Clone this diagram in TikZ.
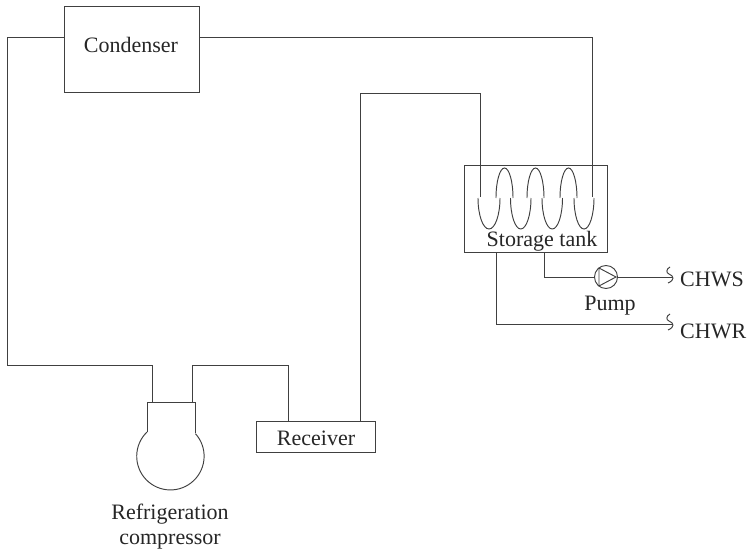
\documentclass[tikz,border=0pt]{standalone}
\usepackage{fontspec}
\setmainfont{Liberation Serif}
\tikzset{
  pipe/.style={draw=black!75,line width=0.95pt,line join=miter},
  lbl/.style={inner sep=0pt,font=\fontsize{22}{25}\selectfont,text=black!85},
  boxed/.style={draw=black!75,line width=0.95pt,fill=none,inner sep=0pt}
}
\begin{document}
\begin{tikzpicture}[x=1pt,y=-1pt]
\useasboundingbox (0,0) rectangle (748,549);
\node[boxed,minimum width=135pt,minimum height=86pt] (cond) at (131.5,49) {};
\node[lbl] (condt) at (131,45) {Condenser};
\node[boxed,minimum width=143pt,minimum height=87pt] (tank) at (535.5,208.5) {};
\node[lbl] (tankt) at (542,241.5) {Storage tank};
\node[boxed,minimum width=119pt,minimum height=31pt] (recv) at (315.5,436.5) {};
\node[lbl] (recvt) at (316,438) {Receiver};
\node[boxed,circle,minimum size=23pt] (pump) at (606,277) {};
\node[lbl] (pumpt) at (610,306) {Pump};
\node[lbl,anchor=west] (chws) at (680,279.5) {CHWS};
\node[lbl,anchor=west] (chwr) at (680,331) {CHWR};
\node[lbl,align=center] (compt) at (170,527) {Refrigeration\\compressor};
\coordinate (s1) at (673,277);
\coordinate (s2) at (673,324);
% compressor
\draw[pipe] (147,432) -- (147,402) -- (195,402) -- (195,433.4);
\draw[pipe] (147,432) arc[start angle=226,end angle=-42,radius=33.7];
% pipes
\draw[pipe] (cond.west |- 0,37) -- (7,37) -- (7,365) -- (152,365) -- (152,402);
\draw[pipe] (192,402) -- (192,365) -- (288,365) -- (288,421);
\draw[pipe] (360,421) -- (360,93) -- (480,93) -- (480,197);
\draw[pipe] (cond.east |- 0,37) -- (592,37) -- (592,197);
\draw[pipe] (544,252) -- (544,277) -- (pump.west);
\draw[pipe] (pump.east) -- (s1);
\draw[pipe] (496,252) -- (496,324) -- (s2);
% pump triangle
\draw[pipe] (599,268) -- (616,277) -- (599,286) -- cycle;
% squiggles
\foreach \c in {s1,s2}{
  \begin{scope}[shift={(\c)}]
  \draw[pipe] (-3,-10) .. controls (-7,-8) and (-7,-4) .. (-4,-3) .. controls (1,-1) and (2,3) .. (-5,6);
  \end{scope}
}
% coil lower loops
\foreach \a/\r in {489/11,520.75/10.25,552.25/10.25,584/10}{
  \draw[pipe] (\a-\r,198) arc[start angle=180,end angle=0,x radius=\r,y radius=31];
}
% coil upper loops
\foreach \a/\r in {504.5/8.5,535.5/8.5,568.5/8.5}{
  \draw[pipe] (\a-\r,198) arc[start angle=180,end angle=360,x radius=\r,y radius=30];
}
\end{tikzpicture}
\end{document}
